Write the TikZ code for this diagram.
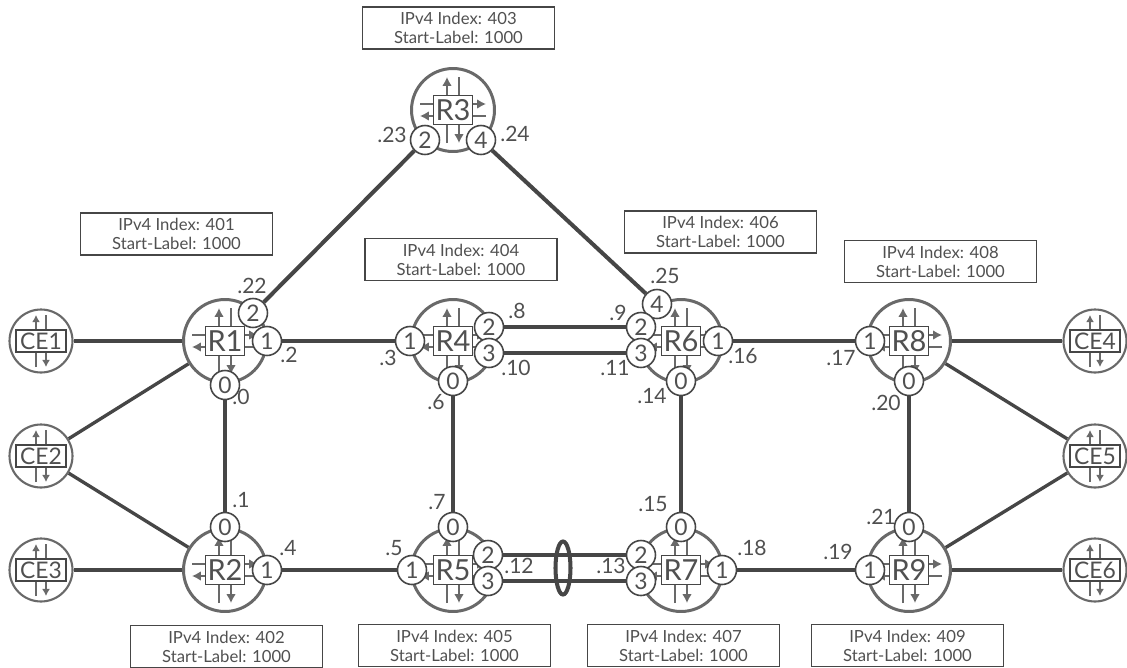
\documentclass[tikz,border=0pt]{standalone}
\usepackage{fontspec}
\setmainfont{Lato}
\usepackage{xcolor}
\usetikzlibrary{arrows.meta,backgrounds,shapes.geometric}
\definecolor{myline}{RGB}{70,70,70}
\definecolor{myring}{RGB}{105,105,105}
\definecolor{mytext}{RGB}{80,80,80}
\tikzset{
    routerring/.style={
        circle,
        draw=myring,
        fill=white,
        line width=1.7pt,
        minimum size=1.66cm,
        inner sep=0pt
    },
    cering/.style={
        circle,
        draw=myring,
        fill=white,
        line width=1.2pt,
        minimum size=1.26cm,
        inner sep=0pt
    },
    routerbox/.style={
        rectangle,
        draw=myline,
        fill=white,
        line width=0.9pt,
        minimum width=0.78cm,
        minimum height=0.58cm,
        inner sep=0pt,
        text=mytext,
        font=\fontsize{16.5}{18}\selectfont
    },
    cebox/.style={
        rectangle,
        draw=myline,
        fill=white,
        line width=0.9pt,
        minimum width=1.0cm,
        minimum height=0.44cm,
        inner sep=0pt,
        text=mytext,
        font=\fontsize{13}{15}\selectfont
    },
    port/.style={
        circle,
        draw=myline,
        fill=white,
        line width=0.9pt,
        minimum size=0.58cm,
        inner sep=0pt,
        text=mytext,
        font=\fontsize{13}{14}\selectfont
    },
    infobox/.style={
        rectangle,
        draw=myline,
        fill=white,
        line width=0.9pt,
        minimum width=3.84cm,
        minimum height=0.84cm,
        inner sep=0pt,
        align=center,
        text=mytext,
        font=\fontsize{9.5}{10.8}\selectfont
    },
    addr/.style={text=mytext,inner sep=0pt,font=\fontsize{12}{14}\selectfont},
    bundlering/.style={ellipse,draw=myline,line width=2.3pt,minimum width=0.3cm,minimum height=1.06cm,inner sep=0pt},
    flow/.style={line width=1.6pt,myring},
    flowtip/.style={flow,-{Latex[length=5pt,width=5.5pt]}},
    ceflow/.style={line width=1pt,myring},
    ceflowtip/.style={ceflow,-{Latex[length=4pt,width=4.5pt]}},
    link/.style={line width=2.3pt,myline},
    celink/.style={line width=1.9pt,myline}
}

\begin{document}
\begin{tikzpicture}[x=0.02cm,y=-0.02cm]
\useasboundingbox (0,0) rectangle (1127,667);

% Routers
\foreach \name/\x/\y in {R1/225/341,R2/225/570,R3/453/110,R4/453/341,R5/453/570,R6/681/341,R7/681/570,R8/909/341,R9/909/570}{
  \node[routerring] (\name) at (\x,\y) {};
  \begin{scope}[shift={(\x,\y)}]
    \draw[flowtip] (-6,33) -- (-6,-33);
    \draw[flowtip] (6,-33) -- (6,33);
    \draw[flowtip] (-33,-6) -- (33,-6);
    \draw[flowtip] (33,6) -- (-33,6);
  \end{scope}
  \node[routerbox] (\name box) at (\x,\y) {\name};
}

% Customer edges
\foreach \name/\x/\y in {CE1/41/341,CE2/41/456,CE3/41/570,CE4/1095/341,CE5/1095/456,CE6/1095/570}{
  \node[cering] (\name) at (\x,\y) {};
  \begin{scope}[shift={(\x,\y)}]
    \draw[ceflowtip] (-5,26) -- (-5,-26);
    \draw[ceflowtip] (5,-26) -- (5,26);
  \end{scope}
  \node[cebox] (\name box) at (\x,\y) {\name};
}

% Ports
\foreach \name/\x/\y/\lab in {
  R1a/253/313/2,R1b/267/341/1,R1c/225/385/0,
  R2a/225/527/0,R2b/267/570/1,
  R3a/425/140/2,R3b/481/140/4,
  R4a/410/341/1,R4b/489/327/2,R4c/489/353/3,R4d/453/381/0,
  R5a/453/527/0,R5b/412/570/1,R5c/488/555/2,R5d/488/581/3,
  R6a/657/304/4,R6b/641/327/2,R6c/641/353/3,R6d/718/341/1,R6e/681/381/0,
  R7a/681/527/0,R7b/641/555/2,R7c/641/581/3,R7d/722/570/1,
  R8a/870/341/1,R8b/909/381/0,
  R9a/909/527/0,R9b/870/570/1}
  \node[port] (\name) at (\x,\y) {\lab};

\begin{scope}[on background layer]
\draw[link] (R1a) -- (R3a);
\draw[link] (R3b) -- (R6a);
\draw[link] (R1b) -- (R4a);
\draw[link] (R4b) -- (R6b);
\draw[link] (R4c) -- (R6c);
\draw[link] (R6d) -- (R8a);
\draw[link] (R1c) -- (R2a);
\draw[link] (R4d) -- (R5a);
\draw[link] (R6e) -- (R7a);
\draw[link] (R8b) -- (R9a);
\draw[link] (R2b) -- (R5b);
\draw[link] (R5c) -- (R7b);
\draw[link] (R5d) -- (R7c);
\draw[link] (R7d) -- (R9b);
\draw[celink] (CE1) -- (R1);
\draw[celink] (CE2) -- (R1);
\draw[celink] (CE2) -- (R2);
\draw[celink] (CE3) -- (R2);
\draw[celink] (CE4) -- (R8);
\draw[celink] (CE5) -- (R8);
\draw[celink] (CE5) -- (R9);
\draw[celink] (CE6) -- (R9);
\end{scope}

% Bundle
\node[bundlering] (bundle) at (563,568) {};

% Index boxes
\foreach \name/\x/\y/\idx in {I1/176.5/234/401,I3/458.5/28/403,I4/461/259.5/404,I6/720.5/232/406,I8/940.5/261.5/408,I2/226.5/646.5/402,I5/454.5/645.5/405,I7/683.5/645.5/407,I9/907.5/645.5/409}
  \node[infobox] (\name) at (\x,\y) {IPv4 Index: \idx\\Start-Label: 1000};

% Addresses
\foreach \x/\y/\lab in {
  252/286/.22,289/355/.2,241/397/.0,241/500/.1,288/548/.4,
  392/135/.23,515/134/.24,
  388/358/.3,517/311/.8,516/368/.10,436/402/.6,437/502/.7,
  394/548/.5,519/566/.12,
  618/313/.9,615/368/.11,665/276/.25,743/356/.16,652/396/.14,
  653/504/.15,611/566/.13,752/548/.18,
  841/358/.17,886/403/.20,881/517/.21,838/552/.19}
  \node[addr] at (\x,\y) {\lab};
\end{tikzpicture}
\end{document}
